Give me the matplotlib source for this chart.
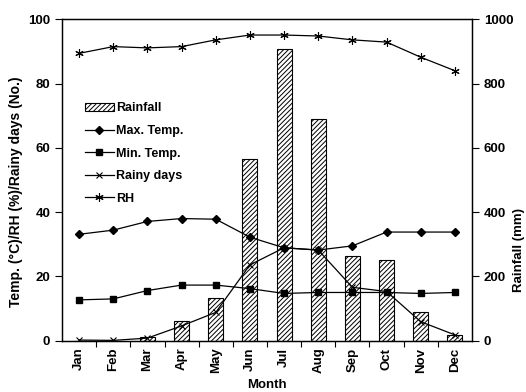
import matplotlib
matplotlib.use("Agg")
import matplotlib.pyplot as plt
import numpy as np

plt.rcParams['font.family'] = ['Liberation Sans', 'DejaVu Sans']
plt.rcParams['font.weight'] = 'bold'
plt.rcParams['hatch.linewidth'] = 0.7

months = ["Jan", "Feb", "Mar", "Apr", "May", "Jun", "Jul", "Aug", "Sep", "Oct", "Nov", "Dec"]
rainfall = [0, 0, 10, 60, 132, 564, 907, 690, 264, 252, 89, 19]
max_temp = [33.1, 34.4, 37.1, 38.0, 37.8, 32.2, 28.9, 28.2, 29.5, 33.8, 33.8, 33.8]
min_temp = [12.7, 13.0, 15.6, 17.3, 17.3, 16.2, 14.7, 15.0, 15.0, 15.0, 14.7, 15.0]
rainy_days = [0.2, 0.1, 0.8, 4.6, 8.8, 23.6, 28.9, 28.2, 16.6, 15.3, 5.9, 1.8]
rh = [89.4, 91.5, 91.1, 91.5, 93.6, 95.1, 95.1, 94.8, 93.6, 92.9, 88.2, 84.0]

fig = plt.figure(figsize=(5.26, 3.92), dpi=100)
ax = fig.add_axes([0.1179, 0.1309, 0.7794, 0.8199])
ax2 = ax.twinx()
ax.set_zorder(ax2.get_zorder() + 1)
ax.patch.set_visible(False)

x = np.arange(len(months))
bars = ax2.bar(x, rainfall, width=0.44, facecolor='white', edgecolor='black',
               hatch='///////', linewidth=0.8, label='Rainfall')
ax2.set_ylim(0, 1000)
ax2.set_yticks([0, 200, 400, 600, 800, 1000])

lkw = dict(color='black', linewidth=0.9)
l1, = ax.plot(x, max_temp, marker='D', markersize=4, label='Max. Temp.', **lkw)
l2, = ax.plot(x, min_temp, marker='s', markersize=4.5, label='Min. Temp.', **lkw)
l3, = ax.plot(x, rainy_days, marker='x', markersize=5, markeredgewidth=0.8, label='Rainy days', **lkw)
l4, = ax.plot(x, rh, marker=(6, 2, 0), markersize=6, markeredgewidth=0.8, label='RH', **lkw)

ax.set_ylim(0, 100)
ax.set_xlim(-0.5, 11.5)
ax.set_yticks([0, 20, 40, 60, 80, 100])
ax.set_xticks(x)
ax.set_xticklabels(months, rotation=90, fontsize=9.5, fontweight='bold')
ax.set_xticks(np.arange(0.5, 11.5, 1), minor=True)
ax.tick_params(axis='x', which='major', length=0, pad=5)
ax.tick_params(axis='x', which='minor', length=4, direction='out', width=0.8)
ax.tick_params(axis='y', length=5, width=0.8, labelsize=9.5, direction='out')
ax2.tick_params(axis='y', length=5, width=0.8, labelsize=9.5, direction='out')
for lab in ax.get_yticklabels() + ax2.get_yticklabels():
    lab.set_fontweight('bold')
for a in (ax, ax2):
    for s in a.spines.values():
        s.set_linewidth(0.9)

fig.text(16 / 526, 1 - 192 / 392, 'Temp. (°C)/RH (%)/Rainy days (No.)', rotation=90,
         ha='center', va='center', fontsize=10, fontweight='bold')
fig.text(1 - 1 / 526, 1 - 250 / 392, 'Rainfall (mm)', rotation=90,
         ha='right', va='center', fontsize=9.5, fontweight='bold')
fig.text(267 / 526, 1 / 392, 'Month', ha='center', va='bottom',
         fontsize=9.5, fontweight='bold')

leg = ax.legend([bars, l1, l2, l3, l4], ['Rainfall', 'Max. Temp.', 'Min. Temp.', 'Rainy days', 'RH'],
                loc='upper left', bbox_to_anchor=(18 / 410, 1 - 78 / 321.4), frameon=False,
                prop={'weight': 'bold', 'size': 9}, handlelength=2.3, handletextpad=0.2,
                labelspacing=0.85, borderaxespad=0)

fig.savefig('out.png', dpi=100)
